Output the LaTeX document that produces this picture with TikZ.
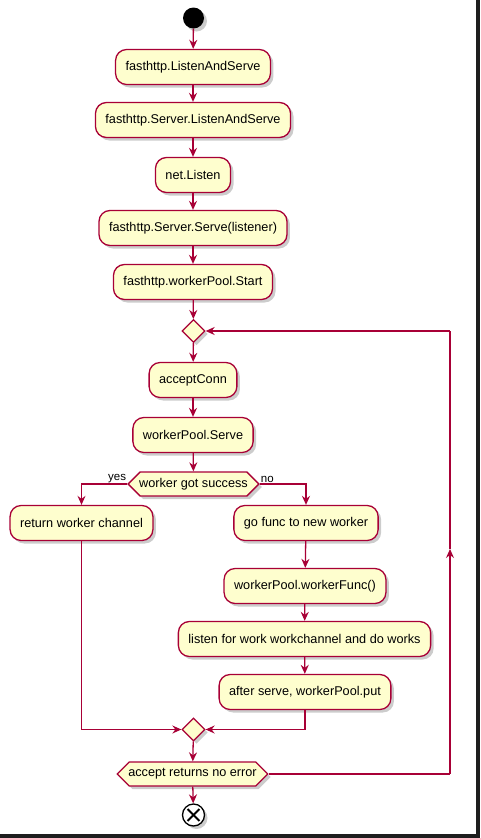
\documentclass[tikz,border=0pt]{standalone}
\usepackage{fontspec}
\setmainfont{Liberation Sans}
\usetikzlibrary{arrows.meta,shapes.geometric,shapes.symbols,shadows}
\definecolor{pfill}{HTML}{FEFECE}
\definecolor{pline}{HTML}{A80036}
\definecolor{frame}{HTML}{1E1E1E}
\begin{document}
\begin{tikzpicture}[x=1pt,y=-1pt,
  font=\fontsize{12.7}{14}\selectfont,
  shad/.style={drop shadow={shadow xshift=3pt,shadow yshift=-3pt,opacity=0.2,fill=black}},
  act/.style={draw=pline,fill=pfill,line width=1.3pt,rounded corners=11pt,
    minimum height=35pt,inner xsep=10pt,shad},
  dia/.style={diamond,draw=pline,fill=pfill,line width=1.3pt,minimum width=23pt,
    minimum height=23pt,inner sep=0pt,shad},
  hex/.style={signal,signal to=west and east,signal pointer angle=90,draw=pline,
    fill=pfill,line width=1.3pt,minimum height=24pt,inner xsep=-1pt,inner ysep=2pt,shad},
  startc/.style={circle,fill=black,minimum size=21pt,inner sep=0pt,shad},
  endc/.style={circle,draw=black,fill=white,line width=1.3pt,minimum size=22pt,inner sep=0pt,shad},
  arr/.style={draw=pline,line width=1.3pt,-{Stealth[length=9pt,width=8pt,inset=3pt]}},
  ln/.style={draw=pline,line width=1.3pt},
  lab/.style={font=\fontsize{11.5}{13}\selectfont,inner sep=1pt}
]
\useasboundingbox (0,0) rectangle (480,838);
\fill[white] (0,0) rectangle (480,838);
\fill[frame] (476,0) rectangle (480,838);
\fill[frame] (0,834) rectangle (480,838);

\node[startc] (s) at (193.5,18) {};
\node[act] (a1) at (193,67) {fasthttp.ListenAndServe};
\node[act] (a2) at (193,120) {fasthttp.Server.ListenAndServe};
\node[act] (a3) at (193,175) {net.Listen};
\node[act] (a4) at (193,228) {fasthttp.Server.Serve(listener)};
\node[act] (a5) at (193,282) {fasthttp.workerPool.Start};
\node[dia] (d1) at (193.5,331) {};
\node[act] (a6) at (193,380) {acceptConn};
\node[act] (a7) at (193,435) {workerPool.Serve};
\node[hex] (h1) at (193.5,484) {worker got success};
\node[act] (b1) at (81.5,523) {return worker channel};
\node[act] (c1) at (306,523) {go func to new worker};
\node[act] (c2) at (305,586) {workerPool.workerFunc()};
\node[act] (c3) at (304.5,639) {listen for work workchannel and do works};
\node[act] (c4) at (305,692) {after serve, workerPool.put};
\node[dia] (d2) at (193.5,729.5) {};
\node[hex] (h2) at (192.5,774) {accept returns no error};
\node[endc] (e) at (193.5,815) {};
\draw[line width=2pt,shorten <=3.2pt,shorten >=3.2pt] (e.45) -- (e.225);
\draw[line width=2pt,shorten <=3.2pt,shorten >=3.2pt] (e.135) -- (e.315);

\node[lab,anchor=south east] (ly) at (h1.west) {yes};
\node[lab,anchor=south west] (ln) at (h1.east) {no};

\draw[arr] (s) -- (a1);
\draw[arr] (a1) -- (a2);
\draw[arr] (a2) -- (a3);
\draw[arr] (a3) -- (a4);
\draw[arr] (a4) -- (a5);
\draw[arr] (a5) -- (d1);
\draw[arr] (d1) -- (a6);
\draw[arr] (a6) -- (a7);
\draw[arr] (a7) -- (h1);
\draw[arr] (h1.west) -| (b1);
\draw[arr] (h1.east) -| (c1);
\draw[arr] (c1) -- (c2);
\draw[arr] (c2) -- (c3);
\draw[arr] (c3) -- (c4);
\draw[arr] (b1) |- (d2);
\draw[arr] (c4) |- (d2);
\draw[arr] (d2) -- (h2);
\draw[arr] (h2) -- (e);

\coordinate (r1) at (450,774);
\coordinate (rm) at (450,549);
\coordinate (r2) at (450,331);
\draw[ln] (h2.east) -- (r1);
\draw[arr] (r1) -- (rm);
\draw[ln] (rm) -- (r2);
\draw[arr] (r2) -- (d1.east);
\end{tikzpicture}
\end{document}
